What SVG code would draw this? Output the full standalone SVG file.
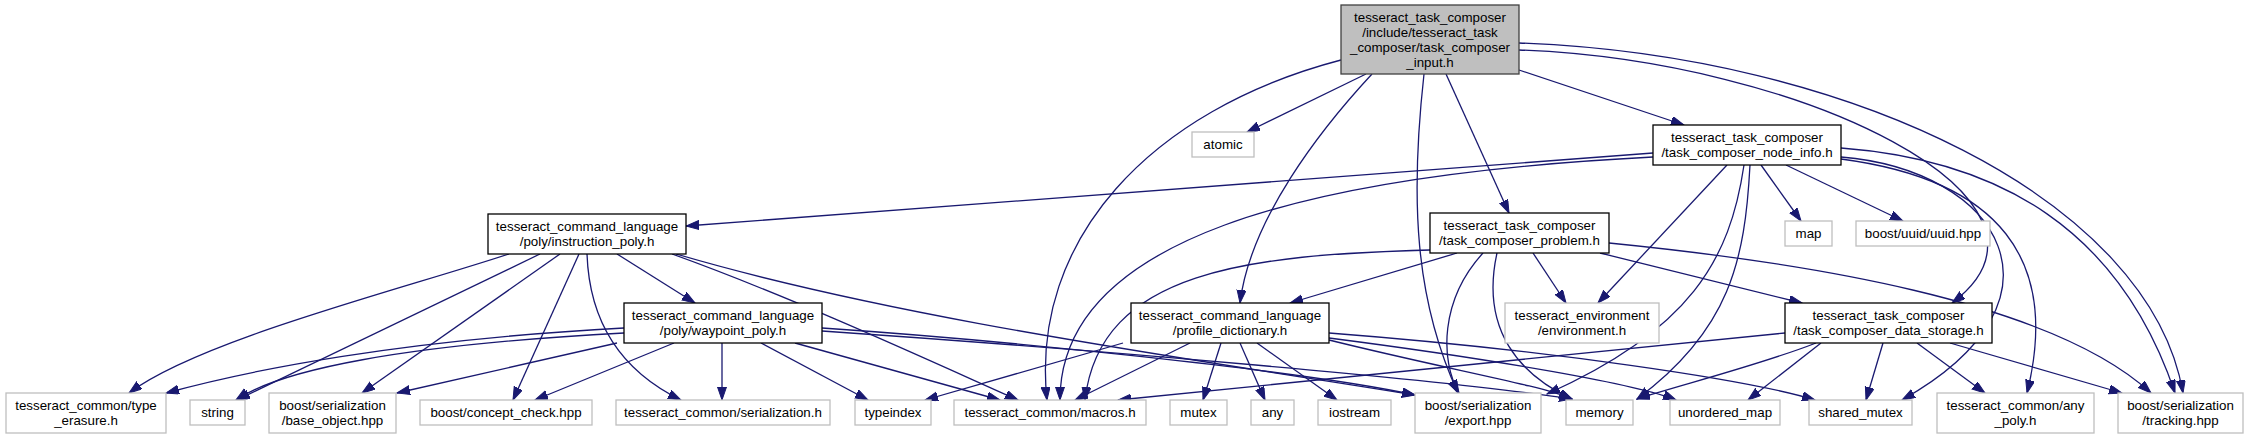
<svg xmlns="http://www.w3.org/2000/svg" width="2251" height="439" viewBox="0 0 2251 439">
<defs>
<marker id="ah" markerUnits="userSpaceOnUse" markerWidth="14" markerHeight="10" refX="13" refY="4.5" orient="auto"><path d="M0,0 L13,4.5 L0,9 z" fill="#191970" stroke="#191970" stroke-width="1"/></marker>
<style>
.e path{fill:none;stroke:#191970;stroke-width:1.3;marker-end:url(#ah)}
.n rect{fill:#fff;stroke:#000;stroke-width:1.3}
.x rect{fill:#fff;stroke:#bfbfbf;stroke-width:1.3}
.r rect{fill:#bfbfbf;stroke:#404040;stroke-width:1.3}
text{font-family:"Liberation Sans",Arial,sans-serif;font-size:13.33px;fill:#000;text-anchor:middle}
</style>
</defs>
<rect width="2251" height="439" fill="#fff"/>
<g class="e" id="edges">
<path d="M1366,74 L1247,132"/>
<path d="M1341,60 C1150,110 1030,240 1047,400"/>
<path d="M1372,74 C1320,130 1250,220 1240,303"/>
<path d="M1424,74 C1410,200 1415,300 1458,393"/>
<path d="M1446,74 L1509,213"/>
<path d="M1519,70 L1684,125"/>
<path d="M1519,50 C1800,60 2090,200 1952,303"/>
<path d="M1519,43 C1850,55 2150,200 2183,393"/>
<path d="M1653,153 L686,226"/>
<path d="M1653,157 C1300,175 1060,240 1060,400"/>
<path d="M1727,165 L1598,303"/>
<path d="M1744,165 C1730,260 1690,330 1547,394"/>
<path d="M1750,165 C1745,260 1730,330 1637,399"/>
<path d="M1761,165 L1801,221"/>
<path d="M1786,165 L1903,221"/>
<path d="M1841,157 C2000,170 2080,300 1902,400"/>
<path d="M1841,159 C2000,180 2060,260 2027,393"/>
<path d="M1841,148 C2000,160 2120,230 2175,393"/>
<path d="M1430,250 C1250,255 1100,270 1085,400"/>
<path d="M1457,253 L1290,303"/>
<path d="M1483,253 C1440,300 1440,360 1459,393"/>
<path d="M1497,253 C1480,330 1520,375 1572,399"/>
<path d="M1533,253 L1566,303"/>
<path d="M1600,253 L1802,303"/>
<path d="M1609,243 C1800,262 2050,300 2151,393"/>
<path d="M509,254 C400,290 200,340 129,393"/>
<path d="M540,254 L237,400"/>
<path d="M560,254 L362,393"/>
<path d="M579,254 L513,400"/>
<path d="M587,254 C590,340 640,380 681,400"/>
<path d="M617,254 L695,303"/>
<path d="M672,254 C800,300 950,370 1018,400"/>
<path d="M676,254 C900,320 1200,360 1415,395"/>
<path d="M624,328 C400,340 250,370 166,393"/>
<path d="M624,333 C400,345 280,370 236,400"/>
<path d="M617,343 L397,393"/>
<path d="M674,343 L535,400"/>
<path d="M722,343 L722,400"/>
<path d="M761,343 L868,400"/>
<path d="M795,343 L1000,400"/>
<path d="M822,328 C1000,340 1300,370 1415,395"/>
<path d="M822,331 C1100,350 1450,380 1572,399"/>
<path d="M1123,343 L925,400"/>
<path d="M1190,343 L1075,400"/>
<path d="M1221,343 L1203,400"/>
<path d="M1240,343 L1265,400"/>
<path d="M1257,343 L1337,400"/>
<path d="M1329,340 C1450,370 1540,385 1572,399"/>
<path d="M1329,338 C1500,360 1640,385 1676,400"/>
<path d="M1329,333 C1550,350 1750,380 1815,400"/>
<path d="M1785,333 L1118,400"/>
<path d="M1816,343 C1760,365 1680,385 1637,399"/>
<path d="M1821,343 L1748,400"/>
<path d="M1883,343 L1866,400"/>
<path d="M1917,343 L1985,393"/>
<path d="M1950,343 L2122,393"/>
</g>
<g id="root" class="r"><rect x="1341" y="5" width="178" height="69"/><text x="1430" y="21.5">tesseract_task_composer</text><text x="1430" y="36.5">/include/tesseract_task</text><text x="1430" y="51.5">_composer/task_composer</text><text x="1430" y="66.5">_input.h</text></g>
<g id="atomic" class="x"><rect x="1192" y="132" width="62" height="25"/><text x="1223" y="149">atomic</text></g>
<g id="node_info" class="n"><rect x="1653" y="125" width="188" height="40"/><text x="1747" y="142">tesseract_task_composer</text><text x="1747" y="157">/task_composer_node_info.h</text></g>
<g id="instruction_poly" class="n"><rect x="488" y="214" width="198" height="40"/><text x="587" y="231">tesseract_command_language</text><text x="587" y="246">/poly/instruction_poly.h</text></g>
<g id="problem" class="n"><rect x="1430" y="213" width="179" height="40"/><text x="1519.5" y="230">tesseract_task_composer</text><text x="1519.5" y="245">/task_composer_problem.h</text></g>
<g id="map" class="x"><rect x="1785" y="221" width="47" height="25"/><text x="1808.5" y="238">map</text></g>
<g id="uuid" class="x"><rect x="1856" y="221" width="134" height="25"/><text x="1923" y="238">boost/uuid/uuid.hpp</text></g>
<g id="waypoint_poly" class="n"><rect x="624" y="303" width="198" height="40"/><text x="723" y="320">tesseract_command_language</text><text x="723" y="335">/poly/waypoint_poly.h</text></g>
<g id="profile_dictionary" class="n"><rect x="1131" y="303" width="198" height="40"/><text x="1230" y="320">tesseract_command_language</text><text x="1230" y="335">/profile_dictionary.h</text></g>
<g id="environment" class="x"><rect x="1505" y="303" width="154" height="40"/><text x="1582" y="320">tesseract_environment</text><text x="1582" y="335">/environment.h</text></g>
<g id="data_storage" class="n"><rect x="1785" y="303" width="207" height="40"/><text x="1888.5" y="320">tesseract_task_composer</text><text x="1888.5" y="335">/task_composer_data_storage.h</text></g>
<g id="type_erasure" class="x"><rect x="6" y="393" width="160" height="40"/><text x="86" y="410">tesseract_common/type</text><text x="86" y="425">_erasure.h</text></g>
<g id="string" class="x"><rect x="190" y="400" width="55" height="25"/><text x="217.5" y="417">string</text></g>
<g id="base_object" class="x"><rect x="269" y="393" width="127" height="40"/><text x="332.5" y="410">boost/serialization</text><text x="332.5" y="425">/base_object.hpp</text></g>
<g id="concept_check" class="x"><rect x="420" y="400" width="172" height="25"/><text x="506" y="417">boost/concept_check.hpp</text></g>
<g id="serialization" class="x"><rect x="616" y="400" width="214" height="25"/><text x="723" y="417">tesseract_common/serialization.h</text></g>
<g id="typeindex" class="x"><rect x="855" y="400" width="76" height="25"/><text x="893" y="417">typeindex</text></g>
<g id="macros" class="x"><rect x="954" y="400" width="192" height="25"/><text x="1050" y="417">tesseract_common/macros.h</text></g>
<g id="mutex" class="x"><rect x="1170" y="400" width="57" height="25"/><text x="1198.5" y="417">mutex</text></g>
<g id="any" class="x"><rect x="1251" y="400" width="43" height="25"/><text x="1272.5" y="417">any</text></g>
<g id="iostream" class="x"><rect x="1318" y="400" width="73" height="25"/><text x="1354.5" y="417">iostream</text></g>
<g id="export" class="x"><rect x="1415" y="393" width="126" height="40"/><text x="1478" y="410">boost/serialization</text><text x="1478" y="425">/export.hpp</text></g>
<g id="memory" class="x"><rect x="1566" y="400" width="67" height="25"/><text x="1599.5" y="417">memory</text></g>
<g id="unordered_map" class="x"><rect x="1670" y="400" width="110" height="25"/><text x="1725" y="417">unordered_map</text></g>
<g id="shared_mutex" class="x"><rect x="1809" y="400" width="103" height="25"/><text x="1860.5" y="417">shared_mutex</text></g>
<g id="any_poly" class="x"><rect x="1937" y="393" width="157" height="40"/><text x="2015.5" y="410">tesseract_common/any</text><text x="2015.5" y="425">_poly.h</text></g>
<g id="tracking" class="x"><rect x="2118" y="393" width="125" height="40"/><text x="2180.5" y="410">boost/serialization</text><text x="2180.5" y="425">/tracking.hpp</text></g>
</svg>
